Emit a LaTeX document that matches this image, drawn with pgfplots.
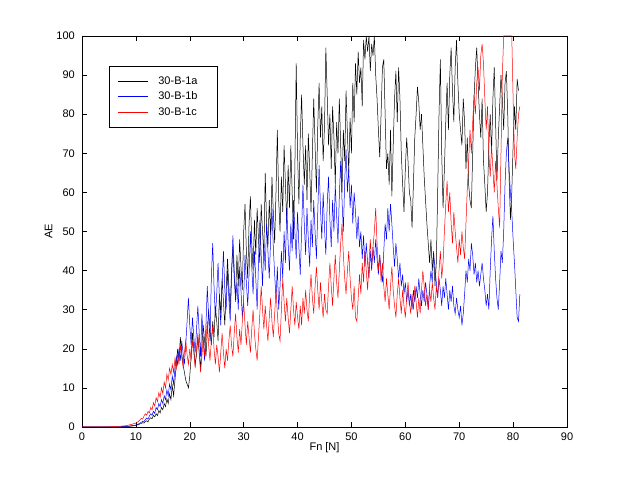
\documentclass[border=0pt]{standalone}
\usepackage{fontspec}
\setmainfont{Liberation Sans}
\usepackage{pgfplots}
\pgfplotsset{compat=1.18}
\newcommand\ff{\fontsize{11bp}{13bp}\selectfont}
\begin{document}
\begin{tikzpicture}
\path[use as bounding box] (0,0) rectangle (628bp,479bp);
\begin{axis}[
  at={(82bp,52bp)}, anchor=south west,
  scale only axis, width=485bp, height=391bp,
  xmin=0, xmax=90, ymin=0, ymax=100,
  xtick={0,10,...,90}, ytick={0,10,...,100},
  tick align=inside, major tick length=5bp,
  /pgf/number format/assume math mode=true,
  tick label style={font=\ff},
  xticklabel style={anchor=center, yshift=-9.5bp, inner sep=0pt},
  yticklabel style={anchor=east, xshift=-7bp, inner sep=0pt},
  xlabel={Fn [N]}, ylabel={AE},
  label style={font=\ff},
  x label style={at={(axis description cs:0.5,-0.053)}, anchor=center},
  y label style={at={(axis description cs:-0.069,0.5)}, anchor=center},
  axis line style={line width=0.6bp},
  every tick/.style={black, line width=0.5bp},
  legend style={at={(rel axis cs:0.0557,0.923)}, anchor=north west,
    font=\ff, draw=black, line width=0.5bp, inner xsep=8.5bp, inner ysep=8.5bp,
    row sep=2bp},
  legend cell align=left,
  legend image code/.code={\draw[#1, line width=0.6bp] (0bp,0bp) -- (30bp,0bp);},
  clip=true,
]
\addplot[black, line width=0.5bp] coordinates {
(0,0) (2,0) (4,0) (6,0) (8,0.1) (9,0.2)
(10,0.4) (10.25,0.5) (10.5,0.6) (10.75,0.8) (11,0.9) (11.25,1.1) (11.5,1.0) (11.75,1.4) (12,1.6) (12.25,1.3) (12.5,2.0) (12.75,2.4) (13,2.1) (13.25,3.0) (13.5,2.6) (13.75,3.4) (14,2.9) (14.25,4.2) (14.5,3.6) (14.75,5.0) (15,4.4) (15.25,6.0) (15.5,5.2) (15.75,7.2) (16,6.0) (16.25,8.5) (16.5,7.0) (16.75,10.5)
(17,8) (17.25,12) (17.5,16) (17.75,20) (18,17) (18.25,23) (18.5,19) (18.75,16) (19,14) (19.25,12) (19.5,11) (19.75,10) (20,13) (20.25,18) (20.5,24) (20.75,20) (21,16) (21.25,18.5) (21.5,23) (21.75,19) (22,15) (22.25,21) (22.5,26) (22.75,22) (23,18) (23.25,24) (23.5,30) (23.75,25) (24,21) (24.25,27) (24.5,23) (24.75,31) (25,27) (25.25,22) (25.5,34) (25.75,29) (26,38) (26.25,32) (26.5,26) (26.75,35) (27,43) (27.25,36) (27.5,30) (27.75,40) (28,46) (28.25,38) (28.5,33) (28.75,44) (29,36) (29.25,48) (29.5,41) (29.75,35)
(30,50) (30.25,57) (30.5,45) (30.75,38) (31,52) (31.25,59) (31.5,47) (31.75,40) (32,53) (32.25,44) (32.5,56) (32.75,48) (33,42) (33.25,57) (33.5,50) (33.75,44) (34,65) (34.25,52) (34.5,46) (34.75,58) (35,49) (35.25,64) (35.5,55) (35.75,47) (36,60) (36.25,76) (36.5,58) (36.75,50) (37,64) (37.25,55) (37.5,72) (37.75,62) (38,52) (38.25,67) (38.5,56) (38.75,72) (39,60) (39.25,48) (39.5,66) (39.75,93)
(40,70) (40.25,57) (40.5,74) (40.75,85) (41,72) (41.25,62) (41.5,72) (41.75,58) (42,75) (42.25,66) (42.5,55) (42.75,70) (43,84) (43.25,72) (43.5,60) (43.75,77) (44,88) (44.25,74) (44.5,82) (44.75,68) (45,77) (45.25,97) (45.5,85) (45.75,72) (46,80) (46.25,66) (46.5,82) (46.75,74) (47,62) (47.25,78) (47.5,70) (47.75,84) (48,72) (48.25,60) (48.5,76) (48.75,68) (49,86) (49.25,75) (49.5,65) (49.75,79)
(50,70) (50.25,88) (50.5,78) (50.75,93) (51,85) (51.25,96) (51.5,88) (51.75,92) (52,82) (52.25,99) (52.5,94) (52.75,100) (53,96) (53.25,100) (53.5,91) (53.75,98) (54,95) (54.25,100) (54.5,90) (54.75,84) (55,76) (55.25,69) (55.5,80) (55.75,92) (56,94) (56.25,80) (56.5,66) (56.75,70) (57,62) (57.25,76) (57.5,59) (57.75,72) (58,84) (58.25,91) (58.5,78) (58.75,92) (59,84) (59.25,70) (59.5,62) (59.75,55)
(60,66) (60.25,74) (60.5,68) (60.75,60) (61,58) (61.25,51) (61.5,62) (61.75,74) (62,80) (62.25,87) (62.5,83) (62.75,76) (63,80) (63.25,72) (63.5,64) (63.75,58) (64,52) (64.25,47) (64.5,42) (64.75,48) (65,40) (65.25,45) (65.5,36) (65.75,42) (66,60) (66.25,80) (66.5,94) (66.75,70) (67,56) (67.25,66) (67.5,78) (67.75,88) (68,76) (68.25,90) (68.5,97) (68.75,86) (69,78) (69.25,92) (69.5,99) (69.75,88)
(70,80) (70.25,76) (70.5,72) (70.75,84) (71,78) (71.25,66) (71.5,74) (71.75,62) (72,58) (72.25,56) (72.5,70) (72.75,84) (73,92) (73.25,97) (73.5,88) (73.75,80) (74,74) (74.25,84) (74.5,68) (74.75,62) (75,55) (75.25,60) (75.5,72) (75.75,80) (76,70) (76.25,84) (76.5,92) (76.75,78) (77,63) (77.25,74) (77.5,82) (77.75,90) (78,84) (78.25,76) (78.5,88) (78.75,91) (79,80) (79.25,64) (79.5,53) (79.75,60) (80,72) (80.25,82) (80.5,76) (80.75,89) (81,86)
};
\addlegendentry{\makebox[56bp][l]{\hspace{8bp}30-B-1a}}
\addplot[blue, line width=0.5bp] coordinates {
(0,0) (2,0) (4,0) (6,0) (8,0.1) (9,0.3)
(10,0.5) (10.25,0.6) (10.5,0.8) (10.75,1.0) (11,1.2) (11.25,1.5) (11.5,1.4) (11.75,1.9) (12,2.3) (12.25,2.0) (12.5,2.8) (12.75,3.4) (13,3.0) (13.25,4.0) (13.5,3.5) (13.75,5.0) (14,4.4) (14.25,6.0) (14.5,5.2) (14.75,7.0) (15,6.0) (15.25,8.0) (15.5,7.0) (15.75,9.5) (16,8.0) (16.25,11) (16.5,9.5) (16.75,13) (17,11) (17.25,15) (17.5,18) (17.75,16) (18,20) (18.25,17) (18.5,22) (18.75,19) (19,16) (19.25,21) (19.5,27) (19.75,33)
(20,26) (20.25,21) (20.5,28) (20.75,23) (21,19) (21.25,25) (21.5,31) (21.75,24) (22,18) (22.25,29) (22.5,22) (22.75,17) (23,26) (23.25,36) (23.5,28) (23.75,22) (24,38) (24.25,47) (24.5,36) (24.75,28) (25,34) (25.25,42) (25.5,33) (25.75,26) (26,37) (26.25,45) (26.5,35) (26.75,30) (27,40) (27.25,33) (27.5,27) (27.75,38) (28,49) (28.25,40) (28.5,32) (28.75,37) (29,30) (29.25,41) (29.5,35) (29.75,28)
(30,33) (30.25,44) (30.5,37) (30.75,31) (31,39) (31.25,50) (31.5,41) (31.75,34) (32,45) (32.25,38) (32.5,30) (32.75,42) (33,53) (33.25,44) (33.5,36) (33.75,47) (34,40) (34.25,52) (34.5,45) (34.75,38) (35,48) (35.25,56) (35.5,46) (35.75,39) (36,33) (36.25,41) (36.5,30) (36.75,36) (37,45) (37.25,38) (37.5,50) (37.75,42) (38,56) (38.25,47) (38.5,40) (38.75,52) (39,45) (39.25,58) (39.5,50) (39.75,43)
(40,55) (40.25,46) (40.5,39) (40.75,50) (41,62) (41.25,52) (41.5,44) (41.75,56) (42,48) (42.25,41) (42.5,53) (42.75,46) (43,58) (43.25,50) (43.5,43) (43.75,55) (44,67) (44.25,56) (44.5,48) (44.75,60) (45,51) (45.25,44) (45.5,57) (45.75,64) (46,53) (46.25,46) (46.5,58) (46.75,50) (47,62) (47.25,54) (47.5,47) (47.75,59) (48,68) (48.25,58) (48.5,50) (48.75,63) (49,71) (49.25,60) (49.5,66) (49.75,56)
(50,62) (50.25,52) (50.5,60) (50.75,55) (51,48) (51.25,54) (51.5,46) (51.75,50) (52,43) (52.25,49) (52.5,41) (52.75,47) (53,42) (53.25,38) (53.5,45) (53.75,40) (54,46) (54.25,42) (54.5,48) (54.75,43) (55,39) (55.25,44) (55.5,40) (55.75,37) (56,45) (56.25,52) (56.5,48) (56.75,56) (57,50) (57.25,57) (57.5,52) (57.75,46) (58,41) (58.25,47) (58.5,43) (58.75,38) (59,42) (59.25,36) (59.5,39) (59.75,34)
(60,37) (60.25,32) (60.5,35) (60.75,31) (61,34) (61.25,30) (61.5,35) (61.75,32) (62,36) (62.25,33) (62.5,38) (62.75,34) (63,31) (63.25,35) (63.5,32) (63.75,37) (64,34) (64.25,30) (64.5,36) (64.75,40) (65,37) (65.25,44) (65.5,41) (65.75,37) (66,33) (66.25,38) (66.5,35) (66.75,31) (67,36) (67.25,33) (67.5,38) (67.75,34) (68,30) (68.25,35) (68.5,32) (68.75,36) (69,31) (69.25,29) (69.5,33) (69.75,30)
(70,28) (70.25,31) (70.5,26) (70.75,29) (71,34) (71.25,40) (71.5,37) (71.75,43) (72,40) (72.25,47) (72.5,44) (72.75,39) (73,42) (73.25,37) (73.5,40) (73.75,36) (74,39) (74.25,42) (74.5,38) (74.75,35) (75,31) (75.25,34) (75.5,30) (75.75,40) (76,48) (76.25,54) (76.5,45) (76.75,38) (77,33) (77.25,30) (77.5,37) (77.75,45) (78,42) (78.25,50) (78.5,62) (78.75,70) (79,74) (79.25,66) (79.5,60) (79.75,55) (80,48) (80.25,42) (80.5,35) (80.75,28) (81,27) (81.25,34)
};
\addlegendentry{\makebox[56bp][l]{\hspace{8bp}30-B-1b}}
\addplot[red, line width=0.5bp] coordinates {
(0,0) (2,0) (4,0) (6,0.1) (8,0.3) (9,0.6)
(10,1.0) (10.25,1.2) (10.5,1.5) (10.75,1.8) (11,2.2) (11.25,2.0) (11.5,2.8) (11.75,3.4) (12,3.0) (12.25,4.0) (12.5,3.6) (12.75,5.0) (13,4.4) (13.25,6.2) (13.5,5.4) (13.75,7.5) (14,6.5) (14.25,8.8) (14.5,7.6) (14.75,10) (15,8.5) (15.25,11.5) (15.5,10) (15.75,13.5) (16,12) (16.25,15) (16.5,13.5) (16.75,16) (17,14) (17.25,17.5) (17.5,15) (17.75,19) (18,16) (18.25,21) (18.5,18) (18.75,15.5) (19,19) (19.25,22) (19.5,18.5) (19.75,16)
(20,20) (20.25,17) (20.5,22) (20.75,19) (21,15) (21.25,20) (21.5,24) (21.75,19) (22,14) (22.25,18) (22.5,23) (22.75,18) (23,22) (23.25,27) (23.5,21) (23.75,17) (24,22) (24.25,26) (24.5,20) (24.75,16) (25,21) (25.25,18) (25.5,14) (25.75,19) (26,24) (26.25,19) (26.5,15) (26.75,20) (27,17) (27.25,22) (27.5,26) (27.75,21) (28,18) (28.25,24) (28.5,29) (28.75,23) (29,19) (29.25,25) (29.5,21) (29.75,27)
(30,32) (30.25,26) (30.5,21) (30.75,27) (31,23) (31.25,19) (31.5,25) (31.75,30) (32,24) (32.25,20) (32.5,17) (32.75,23) (33,29) (33.25,36) (33.5,30) (33.75,25) (34,31) (34.25,26) (34.5,22) (34.75,28) (35,33) (35.25,27) (35.5,23) (35.75,29) (36,35) (36.25,29) (36.5,24) (36.75,22) (37,30) (37.25,38) (37.5,32) (37.75,27) (38,33) (38.25,28) (38.5,24) (38.75,30) (39,36) (39.25,30) (39.5,26) (39.75,32)
(40,28) (40.25,25) (40.5,31) (40.75,26) (41,33) (41.25,29) (41.5,35) (41.75,30) (42,27) (42.25,34) (42.5,39) (42.75,33) (43,29) (43.25,36) (43.5,41) (43.75,35) (44,30) (44.25,37) (44.5,32) (44.75,28) (45,34) (45.25,30) (45.5,29) (45.75,36) (46,42) (46.25,36) (46.5,31) (46.75,38) (47,44) (47.25,37) (47.5,33) (47.75,40) (48,47) (48.25,52) (48.5,44) (48.75,38) (49,34) (49.25,40) (49.5,45) (49.75,38)
(50,33) (50.25,30) (50.5,36) (50.75,28) (51,27) (51.25,33) (51.5,39) (51.75,34) (52,42) (52.25,37) (52.5,45) (52.75,40) (53,35) (53.25,42) (53.5,48) (53.75,41) (54,46) (54.25,50) (54.5,56) (54.75,47) (55,40) (55.25,44) (55.5,37) (55.75,42) (56,36) (56.25,32) (56.5,38) (56.75,34) (57,30) (57.25,36) (57.5,41) (57.75,35) (58,31) (58.25,28) (58.5,34) (58.75,38) (59,33) (59.25,29) (59.5,35) (59.75,31)
(60,28) (60.25,33) (60.5,37) (60.75,32) (61,29) (61.25,34) (61.5,30) (61.75,36) (62,32) (62.25,28) (62.5,33) (62.75,29) (63,35) (63.25,40) (63.5,36) (63.75,31) (64,34) (64.25,30) (64.5,35) (64.75,32) (65,37) (65.25,33) (65.5,30) (65.75,36) (66,33) (66.25,40) (66.5,45) (66.75,38) (67,42) (67.25,50) (67.5,57) (67.75,63) (68,55) (68.25,60) (68.5,52) (68.75,47) (69,55) (69.25,50) (69.5,46) (69.75,42)
(70,48) (70.25,44) (70.5,50) (70.75,46) (71,43) (71.25,52) (71.5,61) (71.75,68) (72,76) (72.25,70) (72.5,78) (72.75,85) (73,80) (73.25,88) (73.5,92) (73.75,86) (74,95) (74.25,98) (74.5,93) (74.75,84) (75,76) (75.25,82) (75.5,70) (75.75,64) (76,72) (76.25,66) (76.5,60) (76.75,68) (77,62) (77.25,56) (77.5,51) (77.75,70) (78,90) (78.25,100) (78.5,100) (78.75,100) (79,100) (79.25,100) (79.5,100) (79.75,100) (80,84) (80.25,70) (80.5,66) (80.75,74) (81,80) (81.25,82)
};
\addlegendentry{\makebox[56bp][l]{\hspace{8bp}30-B-1c}}
\end{axis}
\end{tikzpicture}
\end{document}
